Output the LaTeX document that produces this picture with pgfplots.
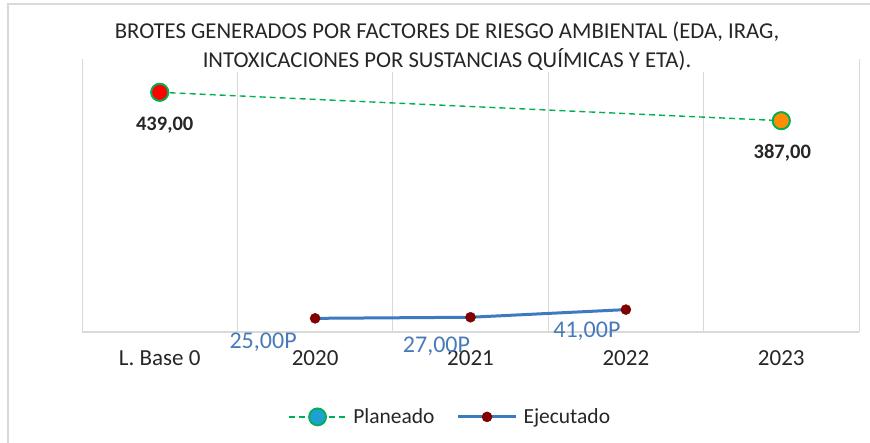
\documentclass[border=0pt]{standalone}
\usepackage{fontspec}
\setmainfont{Carlito}
\usepackage{pgfplots}
\pgfplotsset{compat=1.18}
\definecolor{plangreen}{RGB}{0,176,80}
\definecolor{plancyan}{RGB}{30,160,210}
\definecolor{ejblue}{RGB}{62,122,192}
\definecolor{labblue}{RGB}{72,122,186}
\definecolor{ejred}{RGB}{128,0,0}
\definecolor{gridgray}{RGB}{217,217,217}
\begin{document}
\begin{tikzpicture}[x=1pt,y=1pt]
\path[use as bounding box] (0,0) rectangle (870,443);
\draw[gridgray, line width=1.2pt] (8,0) -- (8,439) -- (870,439);
\begin{axis}[
  at={(82pt,111pt)}, anchor=south west,
  scale only axis, width=777pt, height=273pt,
  xmin=-0.5, xmax=4.5, ymin=0, ymax=500,
  axis line style={draw=none},
  xtick={0,1,2,3,4},
  xticklabels={L. Base 0,2020,2021,2022,2023},
  minor xtick={-0.5,0.5,1.5,2.5,3.5,4.5},
  xminorgrids=true,
  minor grid style={gridgray, line width=0.9pt},
  ytick=\empty,
  major tick length=0pt, minor tick length=0pt,
  xticklabel style={font=\fontsize{23}{26}\selectfont, text=black!85, yshift=-15pt},
  clip=false,
  legend style={at={(0.4736,-0.311)}, anchor=center, draw=none, fill=none,
    legend columns=2, font=\fontsize{21.5}{24}\selectfont, text=black!85,
    /tikz/every odd column/.append style={column sep=4pt},
    /tikz/every even column/.append style={column sep=20pt}},
  legend image code/.code={\draw[mark repeat=2,mark phase=2,#1] plot coordinates {(0pt,0pt) (29pt,0pt) (58pt,0pt)};},
]
\draw[gridgray, line width=1.2pt] (rel axis cs:0,0) -- (rel axis cs:1,0);
\addplot[plangreen, line width=1.4pt, dash pattern=on 6pt off 4pt, mark=*, mark size=8.5pt,
  mark options={solid, fill=plancyan, draw=plangreen, line width=1.8pt}]
  coordinates {(0,439) (4,387)};
\addlegendentry{Planeado}
\addplot[ejblue, line width=3pt, mark=*, mark size=5pt,
  mark options={fill=ejred, draw=ejred, line width=0.5pt}]
  coordinates {(1,25) (2,27) (3,41)};
\addlegendentry{Ejecutado}
\addplot[only marks, forget plot, mark=*, mark size=8.5pt,
  mark options={fill=red, draw=plangreen, line width=1.8pt}] coordinates {(0,439)};
\addplot[only marks, forget plot, mark=*, mark size=8.5pt,
  mark options={fill=orange!90!yellow, draw=plangreen, line width=1.8pt}] coordinates {(4,387)};
\node[font=\bfseries\fontsize{20.5}{24}\selectfont, text=black!85, xshift=5pt, yshift=-33pt] at (axis cs:0,439) {439,00};
\node[font=\bfseries\fontsize{20.5}{24}\selectfont, text=black!85, xshift=1pt, yshift=-32pt] at (axis cs:4,387) {387,00};
\node[font=\fontsize{24}{26}\selectfont, text=labblue, xshift=-52pt, yshift=-24pt] at (axis cs:1,25) {25,00P};
\node[font=\fontsize{24}{26}\selectfont, text=labblue, xshift=-34pt, yshift=-29pt] at (axis cs:2,27) {27,00P};
\node[font=\fontsize{24}{26}\selectfont, text=labblue, xshift=-39pt, yshift=-22pt] at (axis cs:3,41) {41,00P};
\end{axis}
\node[fill=white, align=center, font=\fontsize{22.7}{29}\selectfont, text=black!85, inner sep=2pt] at (447,397) {BROTES GENERADOS POR FACTORES DE RIESGO AMBIENTAL (EDA, IRAG,\\INTOXICACIONES POR SUSTANCIAS QUÍMICAS Y ETA).};
\end{tikzpicture}
\end{document}
